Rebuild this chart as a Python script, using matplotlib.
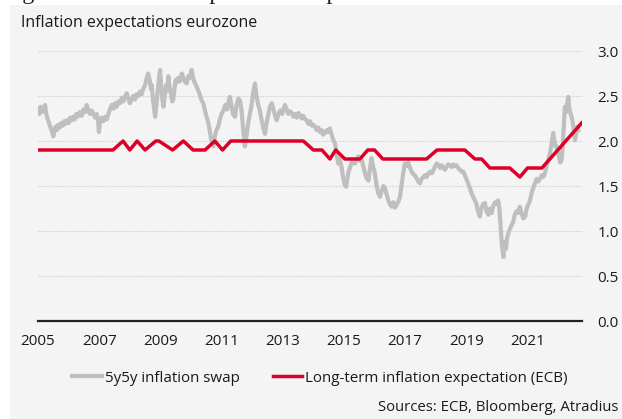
import matplotlib
matplotlib.use("Agg")
import matplotlib.pyplot as plt
from matplotlib.patches import Rectangle

# ECB long-term inflation expectation (SPF), decimal year / %
ecb_years = [2005.0, 2007.45, 2007.78, 2008.0, 2008.24, 2008.5, 2008.85, 2008.95,
             2009.4, 2009.75, 2010.07, 2010.46, 2010.78, 2011.03, 2011.3, 2013.67,
             2014.0, 2014.28, 2014.54, 2014.73, 2015.03, 2015.52, 2015.78, 2016.0,
             2016.27, 2017.7, 2018.04, 2018.95, 2019.28, 2019.5, 2019.77, 2020.42,
             2020.75, 2021.0, 2021.47, 2022.77]
ecb_values = [1.9, 1.9, 2.0, 1.9, 2.0, 1.9, 2.0, 2.0,
              1.9, 2.0, 1.9, 1.9, 2.0, 1.9, 2.0, 2.0,
              1.9, 1.9, 1.8, 1.9, 1.8, 1.8, 1.9, 1.9,
              1.8, 1.8, 1.9, 1.9, 1.8, 1.8, 1.7, 1.7,
              1.6, 1.7, 1.7, 2.2]

# 5y5y inflation swap
swap_years = [
    2005.00, 2005.04, 2005.08, 2005.13, 2005.18, 2005.23, 2005.27, 2005.31, 2005.36, 2005.41,
    2005.46, 2005.50, 2005.54, 2005.58, 2005.62, 2005.66, 2005.71, 2005.76, 2005.81, 2005.86,
    2005.90, 2005.94, 2006.00, 2006.05, 2006.10, 2006.15, 2006.20, 2006.25, 2006.30, 2006.36,
    2006.43, 2006.48, 2006.54, 2006.59, 2006.64, 2006.70, 2006.75, 2006.81, 2006.86, 2006.92,
    2006.96, 2006.99, 2007.03, 2007.08, 2007.14, 2007.20, 2007.25, 2007.30, 2007.36, 2007.41,
    2007.47, 2007.52, 2007.57, 2007.63, 2007.68, 2007.74, 2007.79, 2007.85, 2007.90, 2007.95,
    2008.00, 2008.06, 2008.11, 2008.17, 2008.22, 2008.28, 2008.33, 2008.39, 2008.44, 2008.50,
    2008.55, 2008.60, 2008.65, 2008.69, 2008.72, 2008.76, 2008.80, 2008.83, 2008.87, 2008.91,
    2008.95, 2008.99, 2009.03, 2009.07, 2009.10, 2009.14, 2009.19, 2009.23, 2009.26, 2009.30,
    2009.35, 2009.39, 2009.42, 2009.46, 2009.50, 2009.53, 2009.58, 2009.63, 2009.70, 2009.75,
    2009.80, 2009.86, 2009.91, 2009.96, 2010.02, 2010.07, 2010.12, 2010.19, 2010.25, 2010.30,
    2010.35, 2010.40, 2010.45, 2010.50, 2010.57, 2010.62, 2010.67, 2010.73, 2010.78, 2010.83,
    2010.89, 2010.95, 2011.00, 2011.06, 2011.12, 2011.18, 2011.23, 2011.27, 2011.32, 2011.37,
    2011.44, 2011.49, 2011.55, 2011.60, 2011.65, 2011.70, 2011.76, 2011.81, 2011.87, 2011.93,
    2011.98, 2012.04, 2012.09, 2012.14, 2012.20, 2012.25, 2012.30, 2012.36, 2012.42, 2012.47,
    2012.53, 2012.58, 2012.64, 2012.70, 2012.75, 2012.80, 2012.86, 2012.92, 2012.98, 2013.03,
    2013.07, 2013.13, 2013.18, 2013.24, 2013.29, 2013.35, 2013.40, 2013.46, 2013.51, 2013.56,
    2013.62, 2013.67, 2013.73, 2013.78, 2013.84, 2013.89, 2013.95, 2014.00, 2014.05, 2014.11,
    2014.16, 2014.22, 2014.27, 2014.32, 2014.38, 2014.43, 2014.48, 2014.54, 2014.59, 2014.64,
    2014.71, 2014.76, 2014.81, 2014.86, 2014.92, 2014.97, 2015.02, 2015.07, 2015.11, 2015.15,
    2015.20, 2015.25, 2015.30, 2015.36, 2015.41, 2015.47, 2015.52, 2015.58, 2015.63, 2015.69,
    2015.75, 2015.80, 2015.85, 2015.90, 2015.95, 2016.01, 2016.06, 2016.12, 2016.18, 2016.23,
    2016.29, 2016.34, 2016.40, 2016.45, 2016.50, 2016.56, 2016.61, 2016.67, 2016.72, 2016.78,
    2016.83, 2016.88, 2016.94, 2016.99, 2017.05, 2017.10, 2017.16, 2017.21, 2017.27, 2017.32,
    2017.38, 2017.43, 2017.48, 2017.54, 2017.60, 2017.65, 2017.70, 2017.76, 2017.82, 2017.87,
    2017.93, 2017.98, 2018.03, 2018.08, 2018.14, 2018.19, 2018.25, 2018.30, 2018.36, 2018.41,
    2018.46, 2018.52, 2018.57, 2018.62, 2018.68, 2018.73, 2018.79, 2018.84, 2018.90, 2018.95,
    2019.00, 2019.06, 2019.11, 2019.17, 2019.22, 2019.28, 2019.33, 2019.38, 2019.44, 2019.49,
    2019.55, 2019.61, 2019.66, 2019.72, 2019.77, 2019.83, 2019.88, 2019.94, 2020.00, 2020.04,
    2020.08, 2020.12, 2020.16, 2020.21, 2020.25, 2020.29, 2020.33, 2020.37, 2020.42, 2020.47,
    2020.53, 2020.58, 2020.64, 2020.69, 2020.75, 2020.80, 2020.86, 2020.92, 2020.97, 2021.03,
    2021.08, 2021.13, 2021.19, 2021.24, 2021.30, 2021.35, 2021.41, 2021.46, 2021.51, 2021.57,
    2021.62, 2021.67, 2021.73, 2021.78, 2021.82, 2021.84, 2021.88, 2021.92, 2021.95, 2021.99,
    2022.03, 2022.07, 2022.11, 2022.15, 2022.19, 2022.22, 2022.26, 2022.30, 2022.33, 2022.37,
    2022.41, 2022.44, 2022.48, 2022.52, 2022.55, 2022.59, 2022.63, 2022.66]
swap_values = [
    2.35, 2.30, 2.38, 2.32, 2.36, 2.40, 2.30, 2.25, 2.20, 2.15,
    2.10, 2.05, 2.12, 2.16, 2.12, 2.18, 2.15, 2.20, 2.17, 2.22,
    2.19, 2.23, 2.20, 2.26, 2.23, 2.27, 2.24, 2.30, 2.27, 2.32,
    2.28, 2.35, 2.32, 2.40, 2.35, 2.30, 2.34, 2.30, 2.26, 2.30,
    2.24, 2.10, 2.22, 2.26, 2.22, 2.27, 2.24, 2.30, 2.36, 2.40,
    2.36, 2.42, 2.38, 2.44, 2.42, 2.48, 2.44, 2.50, 2.53, 2.47,
    2.42, 2.46, 2.50, 2.46, 2.52, 2.50, 2.55, 2.52, 2.58, 2.62,
    2.70, 2.75, 2.68, 2.58, 2.62, 2.45, 2.35, 2.27, 2.40, 2.55,
    2.68, 2.79, 2.60, 2.45, 2.38, 2.50, 2.62, 2.56, 2.72, 2.60,
    2.52, 2.44, 2.46, 2.58, 2.68, 2.65, 2.70, 2.66, 2.75, 2.70,
    2.66, 2.64, 2.72, 2.70, 2.79, 2.70, 2.65, 2.60, 2.55, 2.50,
    2.45, 2.42, 2.35, 2.28, 2.20, 2.10, 2.00, 1.94, 2.05, 2.12,
    2.16, 2.25, 2.30, 2.34, 2.40, 2.35, 2.44, 2.49, 2.40, 2.30,
    2.27, 2.40, 2.47, 2.45, 2.35, 2.15, 1.94, 2.05, 2.20, 2.31,
    2.40, 2.55, 2.64, 2.50, 2.40, 2.34, 2.25, 2.15, 2.08, 2.20,
    2.30, 2.38, 2.42, 2.35, 2.28, 2.23, 2.30, 2.34, 2.30, 2.36,
    2.40, 2.35, 2.30, 2.33, 2.31, 2.27, 2.30, 2.26, 2.31, 2.29,
    2.25, 2.28, 2.24, 2.23, 2.19, 2.22, 2.17, 2.18, 2.16, 2.12,
    2.15, 2.10, 2.12, 2.07, 2.09, 2.12, 2.10, 2.14, 2.08, 2.02,
    1.97, 1.85, 1.75, 1.80, 1.71, 1.60, 1.52, 1.49, 1.58, 1.66,
    1.71, 1.76, 1.79, 1.75, 1.80, 1.83, 1.78, 1.79, 1.72, 1.64,
    1.58, 1.56, 1.70, 1.81, 1.72, 1.64, 1.52, 1.42, 1.38, 1.44,
    1.50, 1.48, 1.40, 1.34, 1.30, 1.27, 1.32, 1.26, 1.29, 1.33,
    1.38, 1.50, 1.65, 1.75, 1.72, 1.76, 1.70, 1.66, 1.63, 1.62,
    1.58, 1.55, 1.53, 1.58, 1.60, 1.62, 1.60, 1.64, 1.66, 1.64,
    1.68, 1.72, 1.75, 1.74, 1.70, 1.73, 1.70, 1.68, 1.72, 1.74,
    1.73, 1.71, 1.74, 1.72, 1.73, 1.70, 1.68, 1.66, 1.66, 1.62,
    1.58, 1.53, 1.48, 1.42, 1.38, 1.34, 1.30, 1.22, 1.16, 1.25,
    1.30, 1.31, 1.22, 1.18, 1.25, 1.20, 1.28, 1.32, 1.30, 1.34,
    1.25, 1.05, 0.85, 0.71, 0.88, 0.80, 0.92, 0.97, 1.02, 1.06,
    1.10, 1.18, 1.22, 1.20, 1.27, 1.20, 1.14, 1.16, 1.25, 1.30,
    1.34, 1.42, 1.48, 1.53, 1.58, 1.55, 1.58, 1.62, 1.60, 1.64,
    1.72, 1.78, 1.86, 1.95, 2.05, 2.09, 2.00, 1.94, 1.94, 1.88,
    1.82, 1.76, 1.79, 1.95, 2.20, 2.38, 2.32, 2.42, 2.49, 2.35,
    2.30, 2.27, 2.20, 2.10, 2.01, 2.08, 2.16, 2.12]

year_ticks = [2005, 2007, 2009, 2011, 2013, 2015, 2017, 2019, 2021]
value_ticks = [0.0, 0.5, 1.0, 1.5, 2.0, 2.5, 3.0]

W, H = 622, 419
plt.rcParams['font.family'] = ['Open Sans', 'DejaVu Sans']

fig = plt.figure(figsize=(W / 100, H / 100), dpi=100)
fig.patch.set_facecolor('white')
fig.patches.append(Rectangle((10 / W, 0), 1 - 10 / W, 1 - 5 / H, transform=fig.transFigure,
                             facecolor='#f4f4f4', edgecolor='none', zorder=-10))

# heading of the page above, mostly cut off at the top edge (as in the source)
fig.text(2 / W, 1 + 1.5 / H, 'Figure 3: Inflation expectations up', family='Liberation Serif',
         fontsize=17.5, va='baseline', ha='left', color='#222222')

ax = fig.add_axes([38 / W, (H - 321) / H, 544 / W, 270 / H])
ax.set_facecolor('none')

ax.plot(swap_years, swap_values, color='#bfbfbf', lw=3.0, solid_joinstyle='round',
        label='5y5y inflation swap', zorder=2)
ax.plot(ecb_years, ecb_values, color='#dc0028', lw=2.5, solid_joinstyle='round',
        label='Long-term inflation expectation (ECB)', zorder=3)

ax.set_xlim(2005, 2022.78)
ax.set_ylim(0, 3.0)
ax.set_xticks(year_ticks)
ax.set_xticklabels([str(y) for y in year_ticks])
ax.set_yticks(value_ticks)
ax.set_yticklabels([f'{v:.1f}' for v in value_ticks])
ax.yaxis.tick_right()
ax.tick_params(axis='both', length=0, labelsize=11, colors='#1a1a1a')
ax.tick_params(axis='x', pad=9)
ax.tick_params(axis='y', pad=11)
ax.grid(axis='y', color='#cfcfcf', lw=0.8, linestyle=(0, (1, 1)))
ax.set_axisbelow(True)
for side in ['left', 'right', 'top']:
    ax.spines[side].set_visible(False)
ax.spines['bottom'].set_color('#222222')
ax.spines['bottom'].set_linewidth(1.6)
ax.spines['bottom'].set_zorder(4)

fig.text(21 / W, 1 - 23 / H, 'Inflation expectations eurozone', fontsize=11.5,
         va='center', ha='left', color='#1a1a1a')

fig.legend(loc='center', bbox_to_anchor=(320 / W, 1 - 378 / H), ncol=2, frameon=False,
           fontsize=10.9, handlelength=1.95, handletextpad=0.2, columnspacing=2.2,
           labelcolor='#1a1a1a')

fig.text(618 / W, 1 - 407 / H, 'Sources: ECB, Bloomberg, Atradius', fontsize=10.7,
         va='center', ha='right', color='#1a1a1a')

fig.savefig('out.png', dpi=100)
